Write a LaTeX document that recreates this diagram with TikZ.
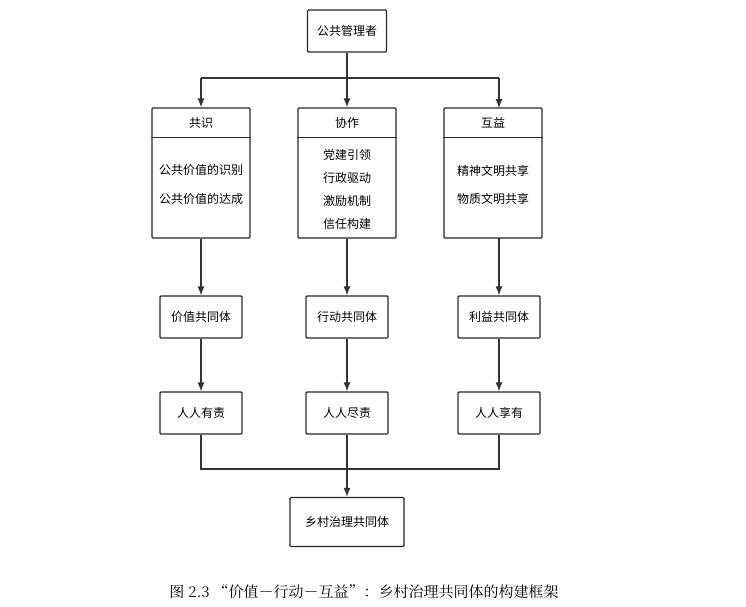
\documentclass[tikz,border=0pt]{standalone}
\usepackage{fontspec}
\setmainfont{Noto Sans CJK SC}
\newfontfamily\capfont{Noto Serif CJK SC}
\usetikzlibrary{arrows.meta, positioning}

\begin{document}
\begin{tikzpicture} [
    x=1pt, y=-1pt,
    box/.style={draw=black!85, line width=1.3pt, rounded corners=1pt, inner sep=2pt, font=\fontsize{12}{14}\selectfont},
    bigbox/.style={box, minimum width=98pt, minimum height=130pt},
    smallbox/.style={box, minimum width=82pt, minimum height=42pt},
    item/.style={inner sep=1pt, font=\fontsize{12}{14}\selectfont},
    conn/.style={draw=black!80, line width=1.1pt},
    every edge/.style={conn, -{Latex[length=9pt,width=7pt]}}
  ]
  \useasboundingbox (0,0) rectangle (746,606);

  % Nodes and Positions
  % LEVEL 0 (TOP)
  \node (GLZ) [box, minimum width=79pt, minimum height=42pt] at (347,31) {公共管理者};

  % LEVEL -1
  \node (GS) [bigbox] at (201,173) {};
  \node (XZ) [bigbox] at (347,173) {};
  \node (HY) [bigbox] at (493,173) {};
  \foreach \b in {GS, XZ, HY}
    \draw [draw=black!85, line width=1.3pt] ([yshift=-30pt]\b.north west) -- ([yshift=-30pt]\b.north east);
  \node [item] at (201,123) {共识};
  \node [item] at (347,123) {协作};
  \node [item] at (493,123) {互益};
  \node [item] at (201,170) {公共价值的识别};
  \node [item] at (201,199) {公共价值的达成};
  \node [item] at (347,155) {党建引领};
  \node [item] at (347,178) {行政驱动};
  \node [item] at (347,201) {激励机制};
  \node [item] at (347,224) {信任构建};
  \node [item] at (493,171) {精神文明共享};
  \node [item] at (493,199) {物质文明共享};

  % LEVEL -2
  \node (JZ) [smallbox] at (201,317) {价值共同体};
  \node (XD) [smallbox] at (347,317) {行动共同体};
  \node (LY) [smallbox] at (499,317) {利益共同体};

  % LEVEL -3
  \node (YZ) [smallbox] at (201,413) {人人有责};
  \node (JZR) [smallbox] at (347,413) {人人尽责};
  \node (XY) [smallbox] at (499,413) {人人享有};

  % LEVEL -4
  \node (XC) [box, minimum width=114pt, minimum height=49pt] at (347,522) {乡村治理共同体};

  % Caption
  \node (CAP) [font=\capfont\fontsize{15}{17}\selectfont] at (364,592) {图 2.3 “价值－行动－互益”：乡村治理共同体的构建框架};

  % Edges
  \coordinate (T) at (347,78);
  \draw [conn] (GLZ) -- (T) (201,78) -- (499,78);
  \path (201,78) edge (GS.north);
  \path (T) edge (XZ.north);
  \path (499,78) edge (499,108);

  \path (GS) edge (JZ);
  \path (XZ) edge (XD);
  \path (499,238) edge (LY);

  \path (JZ) edge (YZ);
  \path (XD) edge (JZR);
  \path (LY) edge (XY);

  \coordinate (B) at (347,469);
  \draw [conn] (YZ) |- (B) -| (XY);
  \draw [conn] (JZR) -- (B);
  \path (B) edge (XC);
\end{tikzpicture}
\end{document}
